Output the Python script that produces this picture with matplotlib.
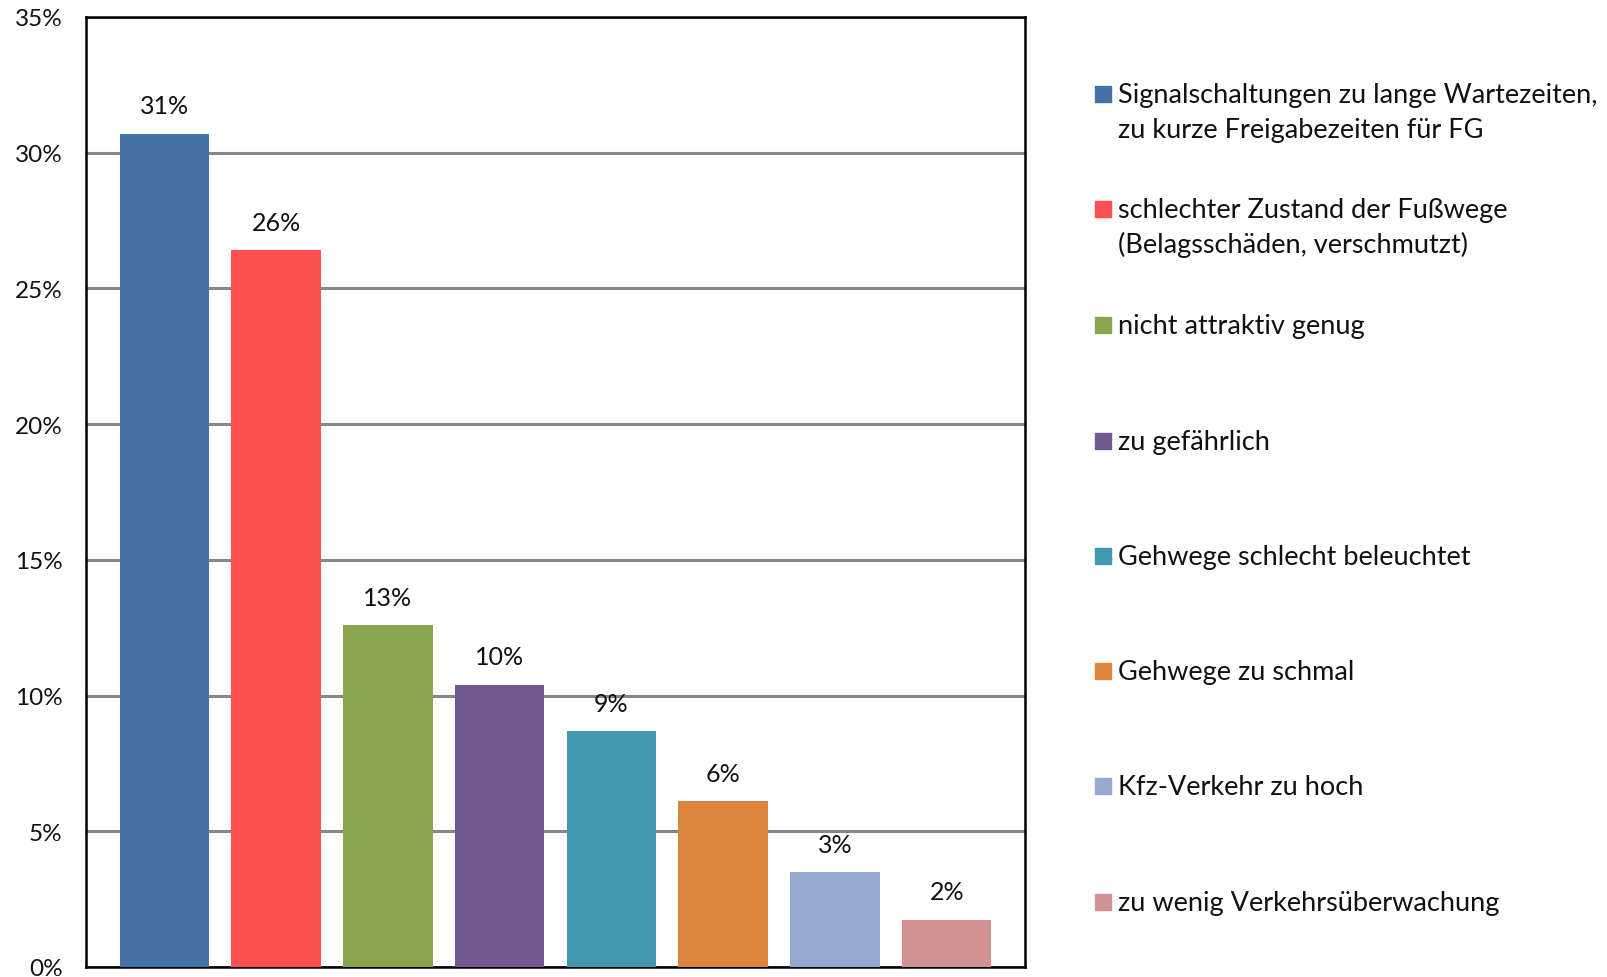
import matplotlib.pyplot as plt
from matplotlib.patches import Rectangle

plt.rcParams['font.family'] = ['Lato', 'DejaVu Sans']

# Daten
kategorien = [
    "Signalschaltungen zu lange Wartezeiten,\nzu kurze Freigabezeiten für FG",
    "schlechter Zustand der Fußwege\n(Belagsschäden, verschmutzt)",
    "nicht attraktiv genug",
    "zu gefährlich",
    "Gehwege schlecht beleuchtet",
    "Gehwege zu schmal",
    "Kfz-Verkehr zu hoch",
    "zu wenig Verkehrsüberwachung",
]
anteile = [30.7, 26.4, 12.6, 10.4, 8.7, 6.1, 3.5, 1.75]
beschriftung = ["31%", "26%", "13%", "10%", "9%", "6%", "3%", "2%"]
farben = ["#4572A7", "#FF5050", "#89A54E", "#71588F",
          "#4198AF", "#DB843D", "#93A9CF", "#D19392"]
y_ticks = [0, 5, 10, 15, 20, 25, 30, 35]

W, H = 1607, 978
fig = plt.figure(figsize=(W / 100, H / 100), dpi=100)
ax = fig.add_axes([86 / W, 1 - 968 / H, (1025 - 86) / W, (968 - 18) / H])

x = list(range(len(anteile)))
bars = ax.bar(x, anteile, width=0.80, color=farben, zorder=3)

for b, txt in zip(bars, beschriftung):
    ax.annotate(txt, (b.get_x() + b.get_width() / 2, b.get_height()),
                xytext=(0, 20), textcoords='offset points',
                ha='center', va='center', fontsize=18, color='#111111')

ax.set_xlim(-0.70, len(anteile) - 1 + 0.70)
ax.set_ylim(0, 35)
ax.set_yticks(y_ticks)
ax.set_yticklabels([f"{v}%" for v in y_ticks], fontsize=17.5, color='#111111')
ax.tick_params(axis='y', length=0, pad=17)
ax.set_xticks([])
ax.grid(axis='y', color='#878787', linewidth=2.2, zorder=0)
for s in ax.spines.values():
    s.set_linewidth(1.8)
    s.set_color('black')

# Legende (manuell), Markierung auf Höhe der ersten Zeile
leg_y = [95, 210, 326, 442, 557, 672, 787, 903]
for name, c, yy in zip(kategorien, farben, leg_y):
    fig.patches.append(Rectangle(((1103 - 8) / W, 1 - (yy + 8) / H), 16 / W, 16 / H,
                                 transform=fig.transFigure, color=c))
    for i, zeile in enumerate(name.split("\n")):
        fig.text(1118 / W, 1 - (yy + 8 + i * 35) / H, zeile, fontsize=19.5,
                 va='baseline', ha='left', color='#111111')

fig.savefig("out.png", dpi=100)
